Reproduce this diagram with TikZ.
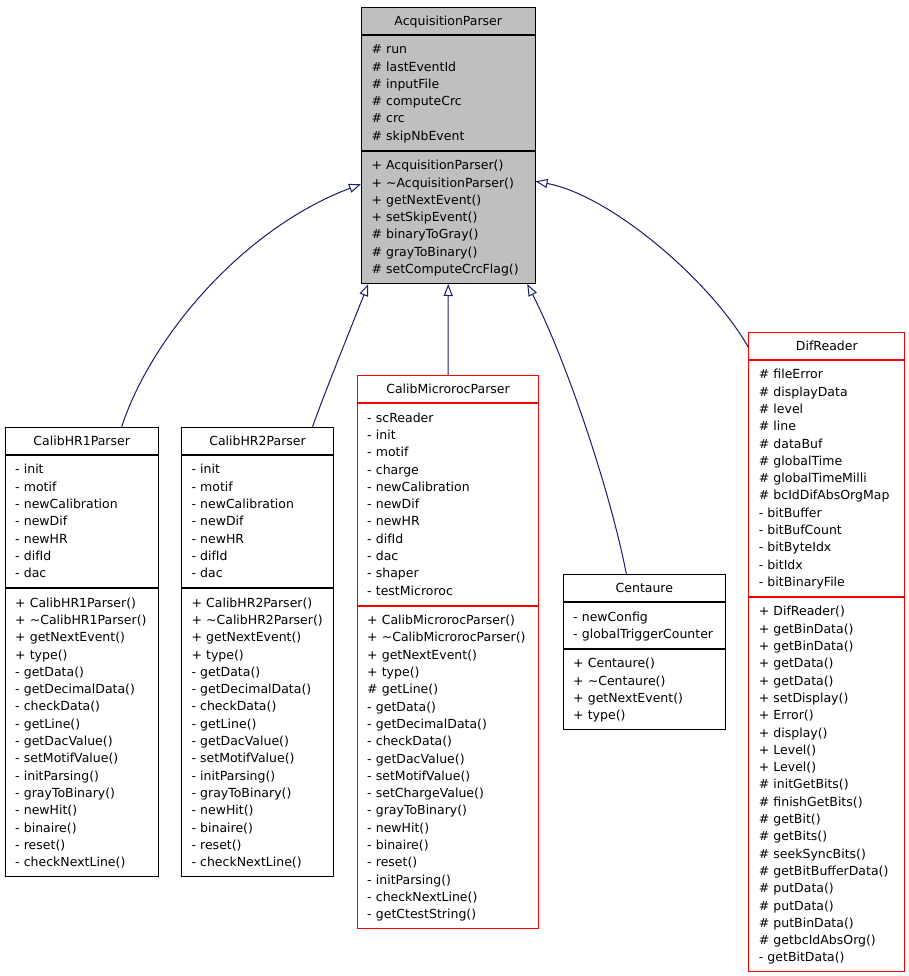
\documentclass[tikz,border=0pt]{standalone}
\usepackage{fontspec}
\setmainfont{DejaVu Sans}
\usetikzlibrary{positioning,arrows.meta}

\definecolor{edgeblue}{HTML}{191970}
\definecolor{basegray}{HTML}{BFBFBF}
\newcommand\cstrut{\rule[-4.3pt]{0pt}{17.3pt}}

\tikzset{
	umlpart/.style={draw, line width=1pt, inner xsep=10pt, text width=#1,
		font=\fontsize{12.5}{17.3}\selectfont,
		execute at begin node=\cstrut, execute at end node=\cstrut},
	classname/.style={umlpart=#1, align=center, inner ysep=4.85pt},
	members/.style={umlpart=#1, align=left, inner ysep=5.6pt},
	inherit/.style={edgeblue, line width=1pt, -{Triangle[open, length=12pt, width=9pt]}}
}

\begin{document}
\begin{tikzpicture}[x=1pt, y=-1pt]
	\useasboundingbox (0,0) rectangle (909,976);

	% base class
	\node[classname=153.5pt, fill=basegray, anchor=north west] (acq) at (361,6.7) {AcquisitionParser};
	\node[members=153.5pt, fill=basegray, below=0pt of acq] (acqattr) {\# run\\\# lastEventId\\\# inputFile\\\# computeCrc\\\# crc\\\# skipNbEvent};
	\node[members=153.5pt, fill=basegray, below=0pt of acqattr] (acqops) {+ AcquisitionParser()\\+ \textasciitilde AcquisitionParser()\\+ getNextEvent()\\+ setSkipEvent()\\\# binaryToGray()\\\# grayToBinary()\\\# setComputeCrcFlag()};

	% CalibHR1Parser
	\node[classname=133pt, anchor=north west] (hr1) at (4.7,426.7) {CalibHR1Parser};
	\node[members=133pt, below=0pt of hr1] (hr1attr) {- init\\- motif\\- newCalibration\\- newDif\\- newHR\\- difId\\- dac};
	\node[members=133pt, below=0pt of hr1attr] (hr1ops) {+ CalibHR1Parser()\\+ \textasciitilde CalibHR1Parser()\\+ getNextEvent()\\+ type()\\- getData()\\- getDecimalData()\\- checkData()\\- getLine()\\- getDacValue()\\- setMotifValue()\\- initParsing()\\- grayToBinary()\\- newHit()\\- binaire()\\- reset()\\- checkNextLine()};

	% CalibHR2Parser
	\node[classname=132pt, anchor=north west] (hr2) at (181,426.7) {CalibHR2Parser};
	\node[members=132pt, below=0pt of hr2] (hr2attr) {- init\\- motif\\- newCalibration\\- newDif\\- newHR\\- difId\\- dac};
	\node[members=132pt, below=0pt of hr2attr] (hr2ops) {+ CalibHR2Parser()\\+ \textasciitilde CalibHR2Parser()\\+ getNextEvent()\\+ type()\\- getData()\\- getDecimalData()\\- checkData()\\- getLine()\\- getDacValue()\\- setMotifValue()\\- initParsing()\\- grayToBinary()\\- newHit()\\- binaire()\\- reset()\\- checkNextLine()};

	% CalibMicrorocParser
	\node[classname=161.6pt, draw=red, anchor=north west] (micro) at (356.7,375) {CalibMicrorocParser};
	\node[members=161.6pt, draw=red, below=0pt of micro] (microattr) {- scReader\\- init\\- motif\\- charge\\- newCalibration\\- newDif\\- newHR\\- difId\\- dac\\- shaper\\- testMicroroc};
	\node[members=161.6pt, draw=red, below=0pt of microattr] (microops) {+ CalibMicrorocParser()\\+ \textasciitilde CalibMicrorocParser()\\+ getNextEvent()\\+ type()\\\# getLine()\\- getData()\\- getDecimalData()\\- checkData()\\- getDacValue()\\- setMotifValue()\\- setChargeValue()\\- grayToBinary()\\- newHit()\\- binaire()\\- reset()\\- initParsing()\\- checkNextLine()\\- getCtestString()};

	% Centaure
	\node[classname=142.3pt, anchor=north west] (cent) at (562.7,574) {Centaure};
	\node[members=142.3pt, below=0pt of cent] (centattr) {- newConfig\\- globalTriggerCounter};
	\node[members=142.3pt, below=0pt of centattr] (centops) {+ Centaure()\\+ \textasciitilde Centaure()\\+ getNextEvent()\\+ type()};

	% DifReader
	\node[classname=136pt, draw=red, anchor=north west] (dif) at (748.3,331.7) {DifReader};
	\node[members=136pt, draw=red, below=0pt of dif] (difattr) {\# fileError\\\# displayData\\\# level\\\# line\\\# dataBuf\\\# globalTime\\\# globalTimeMilli\\\# bcIdDifAbsOrgMap\\- bitBuffer\\- bitBufCount\\- bitByteIdx\\- bitIdx\\- bitBinaryFile};
	\node[members=136pt, draw=red, below=0pt of difattr] (difops) {+ DifReader()\\+ getBinData()\\+ getBinData()\\+ getData()\\+ getData()\\+ setDisplay()\\+ Error()\\+ display()\\+ Level()\\+ Level()\\\# initGetBits()\\\# finishGetBits()\\\# getBit()\\\# getBits()\\\# seekSyncBits()\\\# getBitBufferData()\\\# putData()\\\# putData()\\\# putBinData()\\\# getbcIdAbsOrg()\\- getBitData()};

	% inheritance
	\draw[inherit] ([xshift=40pt]hr1.north) .. controls (150,340) and (240,230) .. ([yshift=33.3pt]acqops.west);
	\draw[inherit] ([xshift=55pt]hr2.north) .. controls (325,392) and (352,325) .. ([xshift=-80pt]acqops.south);
	\draw[inherit] (micro.north) -- (acqops.south);
	\draw[inherit] ([xshift=-18pt]cent.north) .. controls (610,490) and (566,360) .. ([xshift=79pt]acqops.south);
	\draw[inherit] ([yshift=-1.5pt]dif.west) .. controls (710,280) and (610,195) .. ([yshift=36pt]acqops.east);
\end{tikzpicture}
\end{document}
